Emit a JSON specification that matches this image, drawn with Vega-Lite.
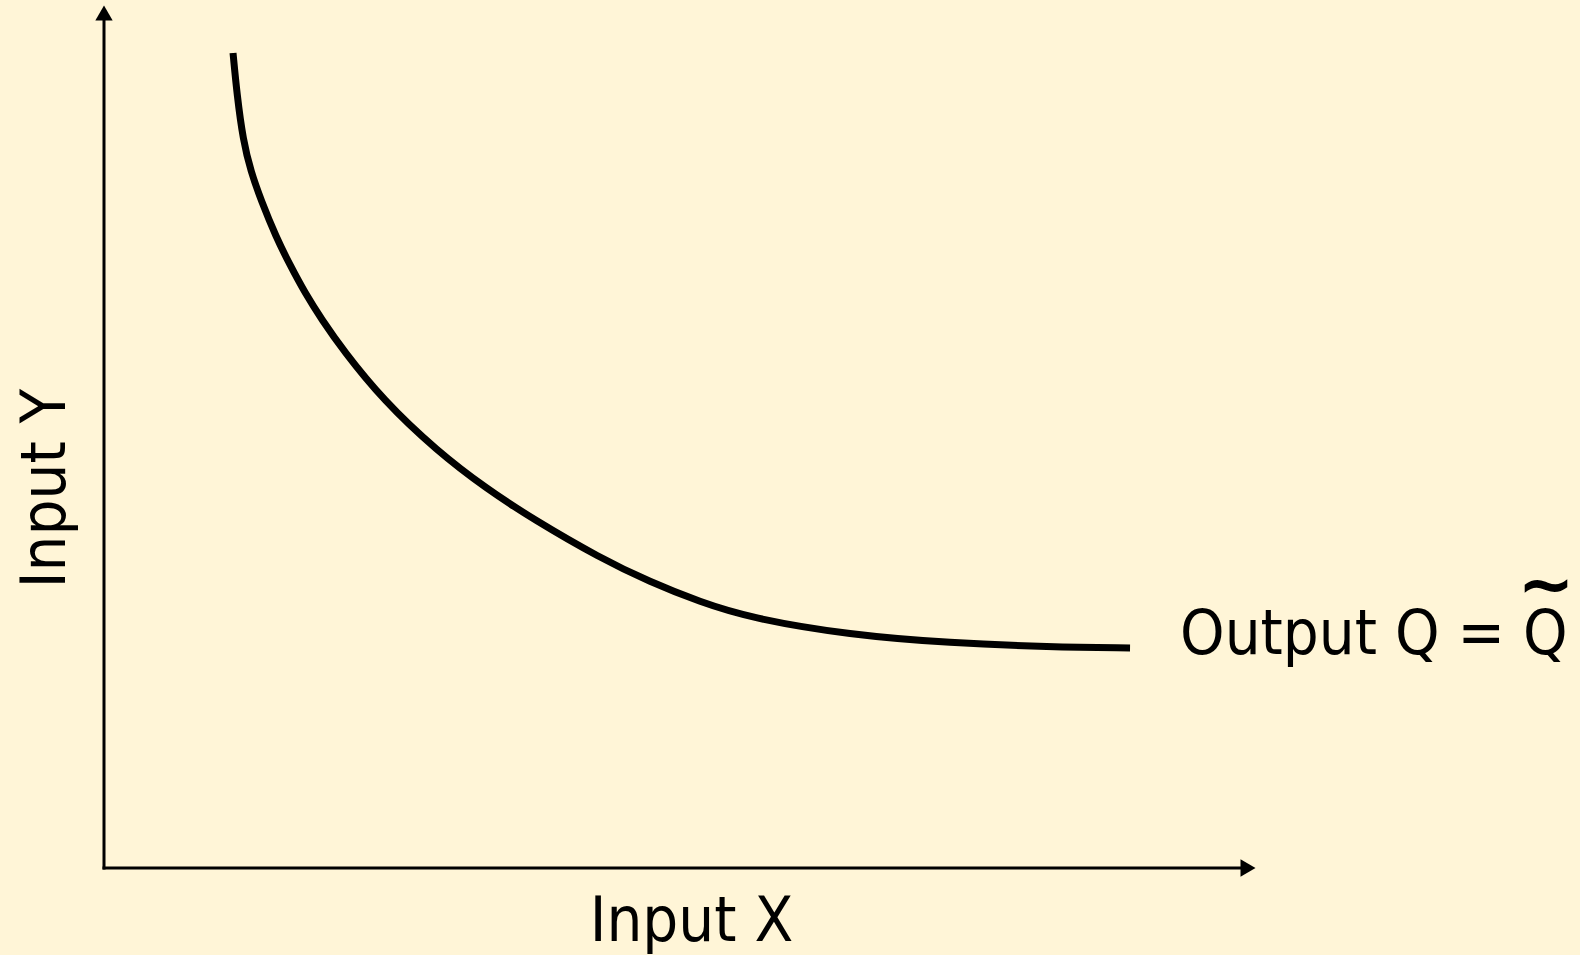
{
  "$schema": "https://vega.github.io/schema/vega-lite/v6.json",
  "width": 1580,
  "height": 955,
  "autosize": {"type": "fit", "contains": "padding"},
  "padding": 0,
  "background": "#FFF5D7",
  "config": {"view": {"stroke": null}},
  "datasets": {
    "axes": [
      {"x": 0, "y": 0, "x2": 0, "y2": 98.6},
      {"x": 0, "y": 0, "x2": 98.8, "y2": 0}
    ],
    "arrows": [
      {"x": 0, "y": 99.42, "dir": "up"},
      {"x": 99.48, "y": 0, "dir": "right"}
    ],
    "curve": [
      {"x": 11.22, "y": 94.77},
      {"x": 11.57, "y": 89.88},
      {"x": 12.09, "y": 84.65},
      {"x": 12.78, "y": 80.93},
      {"x": 13.65, "y": 77.67},
      {"x": 14.96, "y": 73.37},
      {"x": 16.17, "y": 70.12},
      {"x": 17.48, "y": 66.86},
      {"x": 18.96, "y": 63.72},
      {"x": 20.78, "y": 60.23},
      {"x": 24.26, "y": 54.42},
      {"x": 28.96, "y": 48.49},
      {"x": 33.3, "y": 44.07},
      {"x": 37.3, "y": 40.58},
      {"x": 43.13, "y": 36.05},
      {"x": 47.48, "y": 33.26},
      {"x": 51.83, "y": 30.93},
      {"x": 56.17, "y": 29.07},
      {"x": 64.87, "y": 27.09},
      {"x": 73.57, "y": 26.16},
      {"x": 82.26, "y": 25.7},
      {"x": 89.22, "y": 25.58}
    ],
    "xlabel": [{"x": 51.09, "y": -8.49, "label": "Input X"}],
    "ylabel": [{"x": -3.39, "y": 44.13, "label": "Input Y"}],
    "curvelabel": [{"x": 93.57, "y": 24.88, "label": "Output Q = Q"}],
    "tilde": [{"x": 125.39, "y": 30.4, "label": "~"}]
  },
  "encoding": {
    "x": {"field": "x", "type": "quantitative", "scale": {"domain": [-9.0435, 128.348], "nice": false, "zero": false}, "axis": null},
    "y": {"field": "y", "type": "quantitative", "scale": {"domain": [-10.116, 100.93], "nice": false, "zero": false}, "axis": null}
  },
  "layer": [
    {
      "data": {"name": "axes"},
      "mark": {"type": "rule", "color": "#000000", "strokeWidth": 3, "strokeCap": "square"},
      "encoding": {"x2": {"field": "x2"}, "y2": {"field": "y2"}}
    },
    {
      "data": {"name": "arrows"},
      "mark": {"type": "point", "filled": true, "color": "#000000", "opacity": 1, "size": 300},
      "encoding": {
        "shape": {"field": "dir", "type": "nominal", "scale": {"domain": ["up", "right"], "range": ["triangle-up", "triangle-right"]}, "legend": null}
      }
    },
    {
      "data": {"name": "curve"},
      "mark": {"type": "line", "color": "#000000", "strokeWidth": 7, "interpolate": "basis", "strokeCap": "butt"},
      "encoding": {}
    },
    {
      "data": {"name": "xlabel"},
      "mark": {"type": "text", "font": "DejaVu Sans Condensed", "fontSize": 63, "color": "#000000", "align": "center", "baseline": "alphabetic"},
      "encoding": {"text": {"field": "label"}}
    },
    {
      "data": {"name": "ylabel"},
      "mark": {"type": "text", "font": "DejaVu Sans Condensed", "fontSize": 63, "color": "#000000", "align": "center", "baseline": "alphabetic", "angle": 270},
      "encoding": {"text": {"field": "label"}}
    },
    {
      "data": {"name": "curvelabel"},
      "mark": {"type": "text", "font": "DejaVu Sans Condensed", "fontSize": 63, "color": "#000000", "align": "left", "baseline": "alphabetic"},
      "encoding": {"text": {"field": "label"}}
    },
    {
      "data": {"name": "tilde"},
      "mark": {"type": "text", "font": "DejaVu Sans", "fontSize": 68, "fontWeight": "bold", "color": "#000000", "align": "center", "baseline": "alphabetic"},
      "encoding": {"text": {"field": "label"}}
    }
  ]
}
